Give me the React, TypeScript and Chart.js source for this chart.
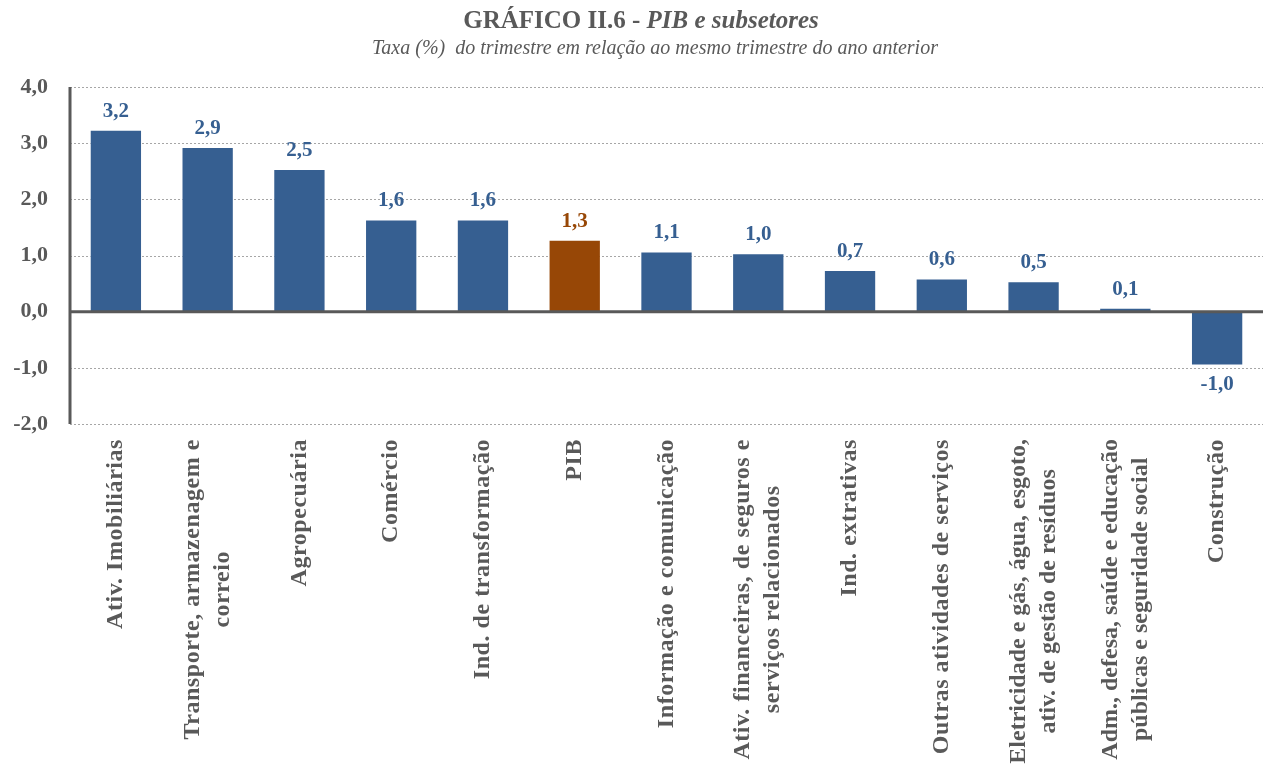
import React, { useEffect, useRef } from "react";
import { Chart, registerables } from "chart.js";

Chart.register(...registerables);

const categories: string[][] = [
  ["Ativ. Imobiliárias"],
  ["Transporte, armazenagem e", "correio"],
  ["Agropecuária"],
  ["Comércio"],
  ["Ind. de transformação"],
  ["PIB"],
  ["Informação e comunicação"],
  ["Ativ. financeiras, de seguros e", "serviços relacionados"],
  ["Ind. extrativas"],
  ["Outras atividades de serviços"],
  ["Eletricidade e gás, água, esgoto,", "ativ. de gestão de resíduos"],
  ["Adm., defesa, saúde e educação", "públicas e seguridade social"],
  ["Construção"],
];

const values: number[] = [3.24, 2.93, 2.54, 1.64, 1.64, 1.28, 1.07, 1.04, 0.74, 0.59, 0.54, 0.07, -0.96];

const yTicks: number[] = [-2, -1, 0, 1, 2, 3, 4];

const titleMain = "GRÁFICO II.6 - ";
const titleItalic = "PIB e subsetores";
const subtitle = "Taxa (%)  do trimestre em relação ao mesmo trimestre do ano anterior";

const BLUE = "#365F91";
const BROWN = "#974706";
const GRAY = "#595959";
const SERIF = '"Liberation Serif", "Times New Roman", serif';

const fmt = (v: number) => v.toFixed(1).replace(".", ",");

const customPlugin = {
  id: "custom",
  beforeDatasetsDraw(chart: any) {
    const { ctx, chartArea, scales } = chart;
    const y = scales.y;
    ctx.save();
    ctx.strokeStyle = "#A6A6A6";
    ctx.lineWidth = 1;
    ctx.setLineDash([2, 2]);
    yTicks.forEach((t) => {
      if (t === 0) return;
      const py = Math.round(y.getPixelForValue(t)) + 0.5;
      ctx.beginPath();
      ctx.moveTo(chartArea.left, py);
      ctx.lineTo(chartArea.right, py);
      ctx.stroke();
    });
    ctx.restore();
  },
  afterDatasetsDraw(chart: any) {
    const { ctx, chartArea, scales } = chart;
    const y = scales.y;
    const x = scales.x;
    ctx.save();
    // zero line
    ctx.strokeStyle = GRAY;
    ctx.lineWidth = 3;
    const y0 = y.getPixelForValue(0);
    ctx.beginPath();
    ctx.moveTo(chartArea.left, y0);
    ctx.lineTo(chartArea.right, y0);
    ctx.stroke();
    // left axis
    ctx.beginPath();
    ctx.moveTo(chartArea.left, y.getPixelForValue(4));
    ctx.lineTo(chartArea.left, y.getPixelForValue(-2));
    ctx.stroke();

    // data labels
    const meta = chart.getDatasetMeta(0);
    ctx.font = `bold 21px ${SERIF}`;
    ctx.textAlign = "center";
    meta.data.forEach((bar: any, i: number) => {
      const v = values[i];
      ctx.fillStyle = i === 5 ? BROWN : BLUE;
      if (v >= 0) {
        ctx.textBaseline = "bottom";
        ctx.fillText(fmt(v), bar.x, bar.y - 8);
      } else {
        ctx.textBaseline = "top";
        ctx.fillText(fmt(v), bar.x, bar.y + 8);
      }
    });

    // category labels (rotated)
    ctx.fillStyle = GRAY;
    const lh = 30;
    const top = chartArea.bottom + 15;
    const maxW = 332;
    categories.forEach((lines, i) => {
      const cx = x.getPixelForValue(i);
      let size = 24;
      let spacing = 0.55;
      ctx.font = `bold ${size}px ${SERIF}`;
      (ctx as any).letterSpacing = `${spacing}px`;
      let w = 0;
      lines.forEach((l) => (w = Math.max(w, ctx.measureText(l).width)));
      if (w > maxW) {
        spacing = 0;
        (ctx as any).letterSpacing = "0px";
        w = 0;
        lines.forEach((l) => (w = Math.max(w, ctx.measureText(l).width)));
        if (w > maxW) {
          size = size * (maxW / w);
          ctx.font = `bold ${size}px ${SERIF}`;
          w = 0;
          lines.forEach((l) => (w = Math.max(w, ctx.measureText(l).width)));
        }
      }
      ctx.save();
      ctx.translate(cx, top);
      ctx.rotate(-Math.PI / 2);
      ctx.textAlign = "center";
      ctx.textBaseline = "middle";
      const n = lines.length;
      lines.forEach((l, k) => {
        const off = (k - (n - 1) / 2) * lh;
        ctx.fillText(l, -w / 2, off);
      });
      ctx.restore();
    });
    (ctx as any).letterSpacing = "0px";

    // title
    ctx.fillStyle = GRAY;
    ctx.textBaseline = "alphabetic";
    ctx.textAlign = "left";
    ctx.font = `bold 25px ${SERIF}`;
    const w1 = ctx.measureText(titleMain).width;
    ctx.font = `italic bold 25px ${SERIF}`;
    const w2 = ctx.measureText(titleItalic).width;
    const tx = 641 - (w1 + w2) / 2;
    ctx.font = `bold 25px ${SERIF}`;
    ctx.fillText(titleMain, tx, 28);
    ctx.font = `italic bold 25px ${SERIF}`;
    ctx.fillText(titleItalic, tx + w1, 28);
    ctx.font = `italic 20px ${SERIF}`;
    ctx.textAlign = "center";
    ctx.fillText(subtitle, 655, 54);
    ctx.restore();
  },
};

export default function App() {
  const ref = useRef<HTMLCanvasElement | null>(null);
  useEffect(() => {
    if (!ref.current) return;
    const chart = new Chart(ref.current, {
      type: "bar",
      data: {
        labels: categories.map((c) => c.join(" ")),
        datasets: [
          {
            data: values,
            backgroundColor: values.map((_, i) => (i === 5 ? BROWN : BLUE)),
            borderColor: "rgba(255,255,255,0.6)",
            borderWidth: 1,
            barPercentage: 0.57,
            categoryPercentage: 1,
          },
        ],
      },
      options: {
        animation: false,
        responsive: true,
        maintainAspectRatio: false,
        layout: { padding: { top: 87, left: 0, right: 0, bottom: 0 } },
        plugins: {
          legend: { display: false },
          tooltip: { enabled: false },
          title: { display: false },
        },
        scales: {
          x: {
            grid: { display: false },
            border: { display: false },
            ticks: { display: false },
            afterFit: (s: any) => {
              s.height = 353;
            },
          },
          y: {
            min: -2,
            max: 4,
            grid: { display: false },
            border: { display: false },
            afterBuildTicks: (s: any) => {
              s.ticks = yTicks.map((v) => ({ value: v }));
            },
            ticks: {
              padding: 14,
              color: GRAY,
              font: { family: SERIF, size: 22, weight: "bold" },
              callback: (v: any) => fmt(Number(v)),
            },
            afterFit: (s: any) => {
              s.width = 70;
            },
          },
        },
      },
      plugins: [customPlugin],
    });
    return () => chart.destroy();
  }, []);
  return (
    <div style={{ position: "absolute", left: 0, top: 0, width: 1263, height: 777, background: "#fff" }}>
      <canvas ref={ref} />
    </div>
  );
}
